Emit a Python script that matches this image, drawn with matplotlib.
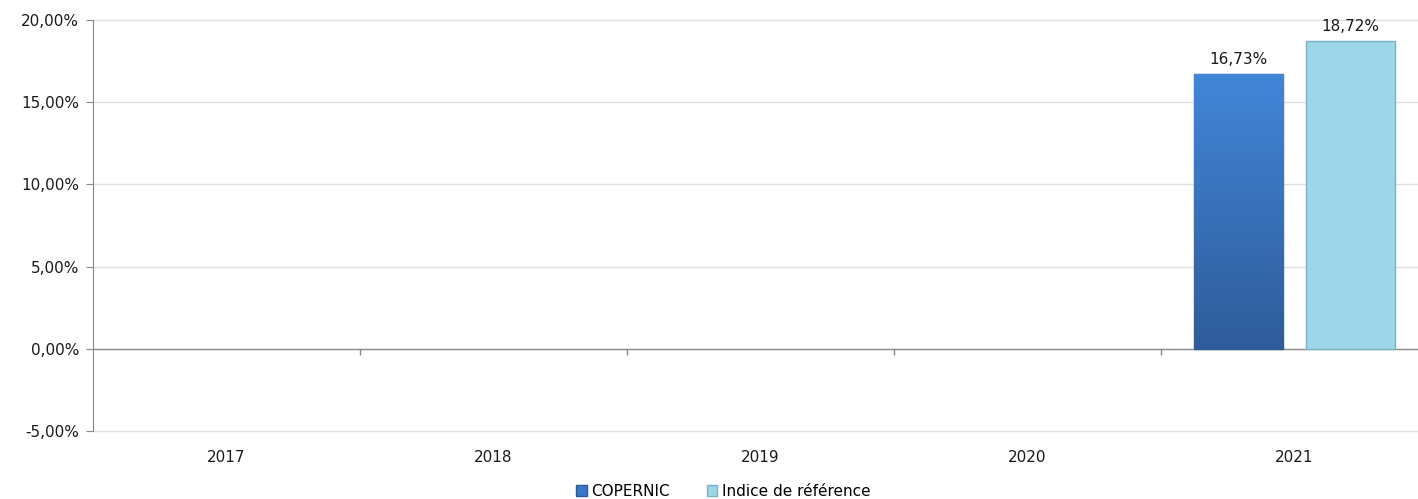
import numpy as np
import matplotlib.pyplot as plt
from matplotlib.ticker import FuncFormatter
from matplotlib.patches import Patch
from matplotlib.colors import LinearSegmentedColormap

years = ['2017', '2018', '2019', '2020', '2021']
copernic = [np.nan, np.nan, np.nan, np.nan, 16.73]
indice = [np.nan, np.nan, np.nan, np.nan, 18.72]
series_names = ['COPERNIC', 'Indice de référence']

plt.rcParams['font.family'] = ['DejaVu Sans']
fs = 11

fig = plt.figure(figsize=(14.18, 4.99), dpi=100)
# l'axe déborde à droite comme dans l'original (image rognée)
ax = fig.add_axes([93 / 1418, (499 - 431) / 499, 1335 / 1418, 411 / 499])

x = np.arange(len(years))
w = 0.335
off = 0.21

col_cop = '#3a78c8'
col_ind = '#9dd6e8'

b1 = ax.bar(x - off, copernic, w, color=col_cop, edgecolor='#2c5a92', linewidth=1.0, zorder=3)
b2 = ax.bar(x + off, indice, w, color=col_ind, edgecolor='#78b2c6', linewidth=1.0, zorder=3)

# dégradé vertical sur les barres COPERNIC
grad = np.linspace(0, 1, 256).reshape(-1, 1)
cmap = LinearSegmentedColormap.from_list('c', ['#2f5c9a', '#4286d8'])
for rect in b1:
    h = rect.get_height()
    if np.isnan(h):
        continue
    x0 = rect.get_x()
    im = ax.imshow(grad, extent=[x0, x0 + rect.get_width(), 0, h], origin='lower',
                   cmap=cmap, aspect='auto', zorder=3.5)
    im.set_clip_path(rect)

for bars, vals in ((b1, copernic), (b2, indice)):
    for rect, v in zip(bars, vals):
        if np.isnan(v):
            continue
        ax.text(rect.get_x() + rect.get_width() / 2, v + 0.4, f'{v:.2f}%'.replace('.', ','),
                ha='center', va='bottom', fontsize=fs, color='#1a1a1a', zorder=5)

ax.set_xlim(-0.5, len(years) - 0.5)
ax.set_ylim(-5, 20)
yt = np.arange(-5, 20.1, 5)
ax.set_yticks(yt)
ax.yaxis.set_major_formatter(FuncFormatter(lambda v, p: f'{v:.2f}%'.replace('.', ',')))
# quadrillage horizontal (y compris la ligne à -5 %)
for v in yt:
    if v != 0:
        ax.axhline(v, color='#e0e0e0', linewidth=1.0, zorder=0, clip_on=False)

ax.set_xticks(x)
ax.set_xticklabels(years)
ax.tick_params(axis='x', length=0, pad=14, labelsize=fs, labelcolor='#1a1a1a')
ax.tick_params(axis='y', length=5, color='#888888', labelsize=fs, labelcolor='#1a1a1a', pad=5)

for s in ['top', 'right', 'bottom']:
    ax.spines[s].set_visible(False)
ax.spines['left'].set_color('#888888')
ax.spines['left'].set_zorder(4)

# axe des catégories sur le zéro, avec graduations entre les années
ax.axhline(0, color='#888888', linewidth=1.0, zorder=2)
bounds = np.arange(len(years) + 1) - 0.5
ax.vlines(bounds[1:-1], -0.35, 0, color='#888888', linewidth=1.0, zorder=2)

handles = [Patch(facecolor=col_cop, edgecolor='#2c5a92'), Patch(facecolor=col_ind, edgecolor='#78b2c6')]
fig.legend(handles, series_names, loc='center', bbox_to_anchor=(0.51, 8 / 499),
           ncol=2, frameon=False, fontsize=fs, handlelength=0.7, handleheight=0.7,
           handletextpad=0.3, columnspacing=2.4, borderpad=0)

fig.savefig('out.png', dpi=100)
